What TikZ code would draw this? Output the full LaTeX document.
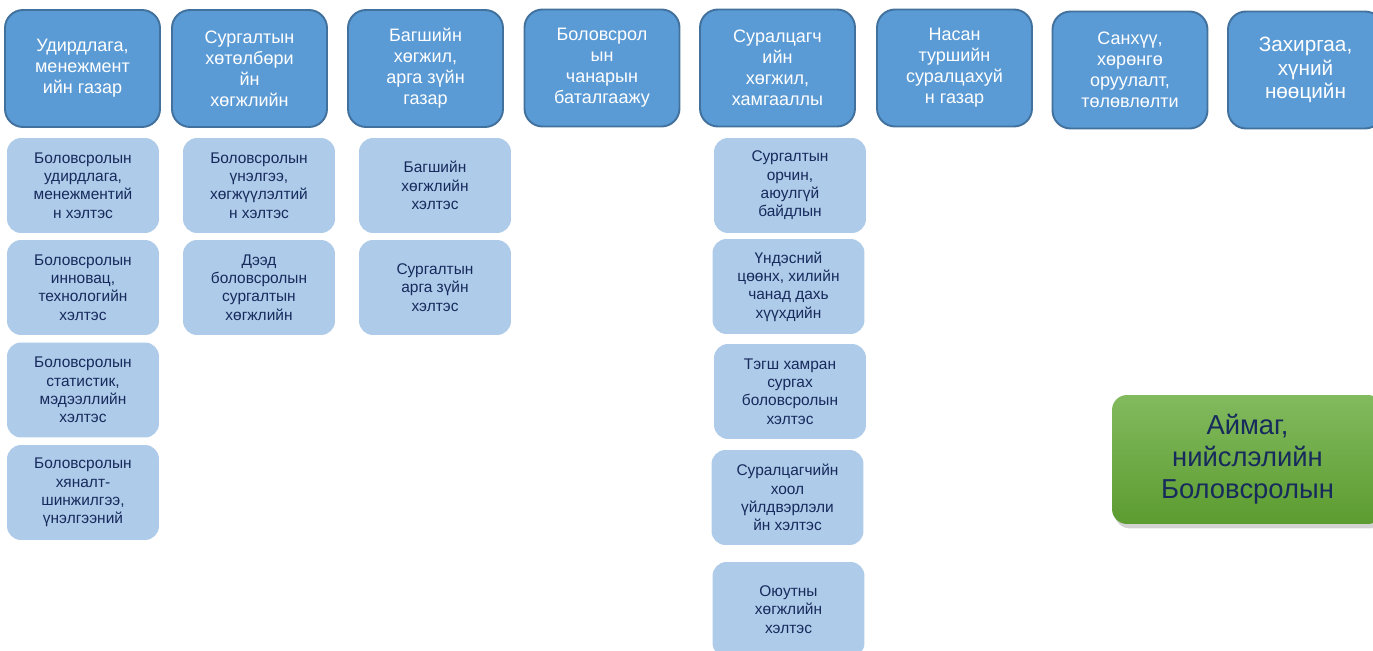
\documentclass[tikz,border=0pt]{standalone}
\usepackage{fontspec}
\setmainfont{Liberation Sans}
\usetikzlibrary{shadows}
\definecolor{topblue}{RGB}{91,155,213}
\definecolor{topedge}{RGB}{65,113,156}
\definecolor{subblue}{RGB}{174,203,233}
\definecolor{navy}{RGB}{22,42,92}
\definecolor{greentop}{RGB}{130,186,94}
\definecolor{greenbot}{RGB}{92,156,48}
\begin{document}
\begin{tikzpicture}[x=0.02cm, y=-0.02cm,
  topbox/.style={draw=topedge, line width=1.1pt, fill=topblue, rounded corners=0.36cm,
    minimum width=3.1cm, minimum height=2.34cm, inner sep=0pt, align=center,
    text=white, font=\fontsize{10.25}{11.9}\selectfont},
  subbox/.style={fill=subblue, rounded corners=0.28cm, minimum width=3.04cm,
    minimum height=1.9cm, inner sep=0pt, align=center, text=navy,
    font=\fontsize{8.8}{10.4}\selectfont},
  citybox/.style={top color=greentop, bottom color=greenbot, rounded corners=0.3cm,
    minimum width=5.42cm, minimum height=2.58cm, inner sep=0pt, align=center, text=navy,
    font=\fontsize{15.6}{18.2}\selectfont,
    drop shadow={shadow xshift=1.5pt, shadow yshift=-2.5pt, opacity=0.35}}]
\useasboundingbox (0,0) rectangle (1373,651);
% top row: departments
\node[topbox] (t1) at (82.5,68.5) {Удирдлага,\\менежмент\\ийн газар};
\node[topbox] (t2) at (249.5,68.5) {Сургалтын\\хөтөлбөри\\йн\\хөгжлийн};
\node[topbox] (t3) at (425.5,68.5) {Багшийн\\хөгжил,\\арга зүйн\\газар};
\node[topbox] (t4) at (602,68) {Боловсрол\\ын\\чанарын\\баталгаажу};
\node[topbox] (t5) at (777.5,68) {Суралцагч\\ийн\\хөгжил,\\хамгааллы};
\node[topbox] (t6) at (954.5,68) {Насан\\туршийн\\суралцахуй\\н газар};
\node[topbox] (t7) at (1130,70) {Санхүү,\\хөрөнгө\\оруулалт,\\төлөвлөлти};
\node[topbox, font=\fontsize{11.8}{13.2}\selectfont] (t8) at (1305.5,70) {Захиргаа,\\хүний\\нөөцийн};
% units under each department
\node[subbox] (s11) at (83,185.5) {Боловсролын\\удирдлага,\\менежментий\\н хэлтэс};
\node[subbox] (s12) at (83,287.5) {Боловсролын\\инновац,\\технологийн\\хэлтэс};
\node[subbox] (s13) at (83,390) {Боловсролын\\статистик,\\мэдээллийн\\хэлтэс};
\node[subbox] (s14) at (83,492.5) {Боловсролын\\хяналт-\\шинжилгээ,\\үнэлгээний};
\node[subbox] (s21) at (259,185.5) {Боловсролын\\үнэлгээ,\\хөгжүүлэлтий\\н хэлтэс};
\node[subbox] (s22) at (259,287.5) {Дээд\\боловсролын\\сургалтын\\хөгжлийн};
\node[subbox] (s31) at (435,185.5) {Багшийн\\хөгжлийн\\хэлтэс};
\node[subbox] (s32) at (435,287.5) {Сургалтын\\арга зүйн\\хэлтэс};
\node[subbox] (s51) at (790,185.5) {Сургалтын\\орчин,\\аюулгүй\\байдлын};
\node[subbox] (s52) at (788.5,286.5) {Үндэсний\\цөөнх, хилийн\\чанад дахь\\хүүхдийн};
\node[subbox] (s53) at (790,391.5) {Тэгш хамран\\сургах\\боловсролын\\хэлтэс};
\node[subbox] (s54) at (787.5,497.5) {Суралцагчийн\\хоол\\үйлдвэрлэли\\йн хэлтэс};
\node[subbox] (s55) at (788.5,609.5) {Оюутны\\хөгжлийн\\хэлтэс};
% city education office
\node[citybox] (city) at (1247.5,459.5) {Аймаг,\\нийслэлийн\\Боловсролын};
\end{tikzpicture}
\end{document}
